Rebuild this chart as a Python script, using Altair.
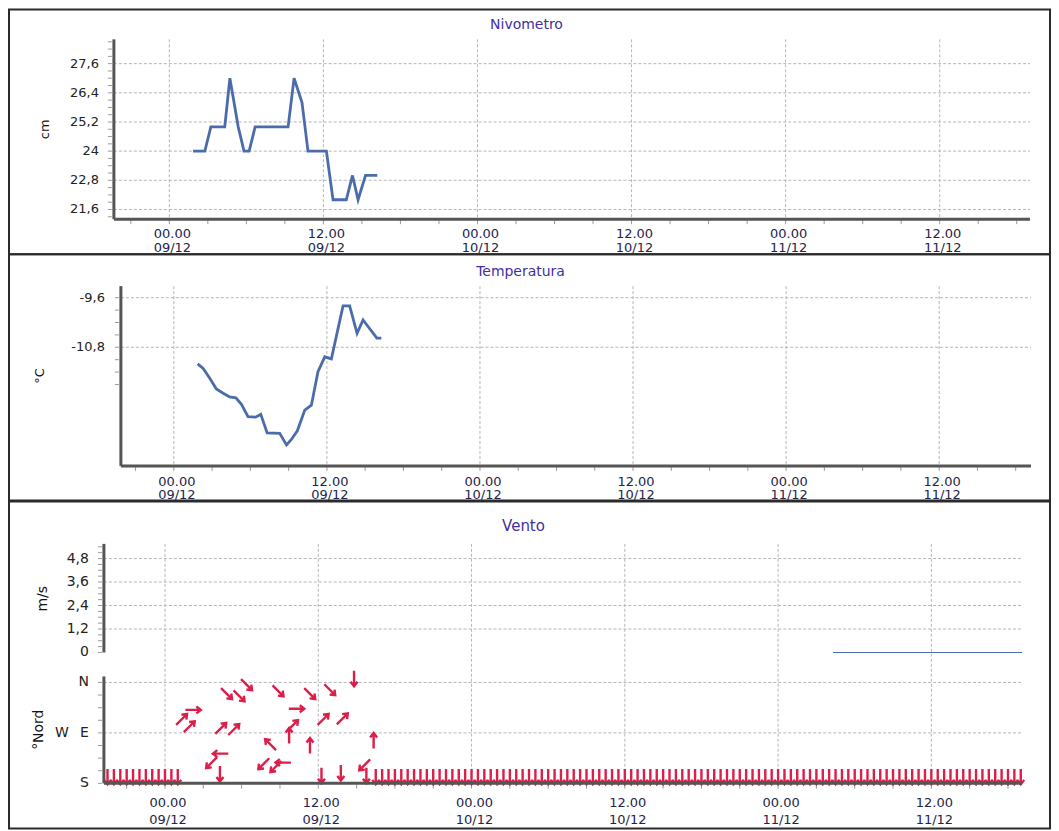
import altair as alt
import pandas as pd

FONT = "DejaVu Sans"
LINE_BLUE = "#4b6cab"
ARROW_RED = "#dc1e48"
GRID_C = "#b5b5b5"
AXIS_C = "#555555"
TICK_C = "#9a9a9a"
TITLE_C = "#3f2f9f"
XLAB_C = "#23234a"
YLAB_C = "#222222"
FRAME_C = "#2b2b2b"

# ---------------- data ----------------
niv_time = ["2023-12-09T01:51", "2023-12-09T02:46", "2023-12-09T03:14", "2023-12-09T04:19",
            "2023-12-09T04:43", "2023-12-09T05:22", "2023-12-09T05:49", "2023-12-09T06:13",
            "2023-12-09T06:41", "2023-12-09T09:15", "2023-12-09T09:43", "2023-12-09T10:20",
            "2023-12-09T10:48", "2023-12-09T12:14", "2023-12-09T12:45", "2023-12-09T13:47",
            "2023-12-09T14:16", "2023-12-09T14:42", "2023-12-09T15:17", "2023-12-09T16:12"]
niv_cm = [24, 24, 25, 25, 27, 25, 24, 24, 25, 25, 27, 26, 24, 24, 22, 22, 23, 22, 23, 23]

temp_time = ["2023-12-09T01:52", "2023-12-09T02:18", "2023-12-09T02:49", "2023-12-09T03:20",
             "2023-12-09T03:52", "2023-12-09T04:23", "2023-12-09T04:52", "2023-12-09T05:18",
             "2023-12-09T05:49", "2023-12-09T06:25", "2023-12-09T06:49", "2023-12-09T07:19",
             "2023-12-09T08:18", "2023-12-09T08:50", "2023-12-09T09:13", "2023-12-09T09:41",
             "2023-12-09T10:16", "2023-12-09T10:47", "2023-12-09T11:18", "2023-12-09T11:50",
             "2023-12-09T12:21", "2023-12-09T13:16", "2023-12-09T13:47", "2023-12-09T14:22",
             "2023-12-09T14:50", "2023-12-09T15:55", "2023-12-09T16:16"]
temp_c = [-11.20, -11.31, -11.55, -11.81, -11.91, -12.00, -12.02, -12.18, -12.48, -12.49,
          -12.42, -12.87, -12.88, -13.16, -13.03, -12.82, -12.32, -12.20, -11.39, -11.03,
          -11.08, -9.80, -9.80, -10.46, -10.14, -10.58, -10.58]

wind_time = ["2023-12-09T01:18", "2023-12-09T01:54", "2023-12-09T02:12", "2023-12-09T03:39",
             "2023-12-09T04:18", "2023-12-09T04:21", "2023-12-09T04:22", "2023-12-09T04:49",
             "2023-12-09T05:23", "2023-12-09T05:48", "2023-12-09T06:23", "2023-12-09T07:44",
             "2023-12-09T08:16", "2023-12-09T08:41", "2023-12-09T08:51", "2023-12-09T09:15",
             "2023-12-09T09:43", "2023-12-09T09:59", "2023-12-09T10:18", "2023-12-09T11:20",
             "2023-12-09T11:21", "2023-12-09T12:15", "2023-12-09T12:23", "2023-12-09T12:54",
             "2023-12-09T13:46", "2023-12-09T13:53", "2023-12-09T14:48", "2023-12-09T15:38",
             "2023-12-09T15:46", "2023-12-09T16:20"]
wind_dir = [66, 79, 49, 143, 163, 127, 82, 20, 84, 24, 4, 145, 111, 150, 15, 143, 95, 77, 47, 20,
            113, 166, 66, 13, 161, 65, -7, 147, 166, 104]
wind_arrow = [45, 45, 90, 225, 180, 270, 45, 135, 45, 135, 135, 225, 315, 225, 135, 270, 0, 45, 90,
              135, 0, 180, 45, 135, 180, 45, 180, 225, 180, 0]

# no-data markers drawn along the bottom (every 30 min)
nodata_a = pd.date_range("2023-12-08 19:30", "2023-12-09 01:00", freq="30min").strftime("%Y-%m-%dT%H:%M").tolist()
nodata_b = pd.date_range("2023-12-09 16:30", "2023-12-11 19:00", freq="30min").strftime("%Y-%m-%dT%H:%M").tolist()
nodata_dir = 168

speed_time = ["2023-12-11T04:18", "2023-12-11T19:06"]
speed_ms = [0, 0]

# axis ticks and labels
tick_12h = ["2023-12-09T00:00", "2023-12-09T12:00", "2023-12-10T00:00",
            "2023-12-10T12:00", "2023-12-11T00:00", "2023-12-11T12:00"]
tick_12h_labels = ["00.00\n09/12", "12.00\n09/12", "00.00\n10/12",
                   "12.00\n10/12", "00.00\n11/12", "12.00\n11/12"]
tick_3h = pd.date_range("2023-12-08 21:00", "2023-12-11 18:00", freq="180min").strftime("%Y-%m-%dT%H:%M").tolist()

niv_ticks = [21.6, 22.8, 24, 25.2, 26.4, 27.6]
niv_tick_labels = ["21,6", "22,8", "24", "25,2", "26,4", "27,6"]
niv_minor = [21.3, 21.6, 21.9, 22.2, 22.5, 22.8, 23.1, 23.4, 23.7, 24.0, 24.3, 24.6, 24.9,
             25.2, 25.5, 25.8, 26.1, 26.4, 26.7, 27.0, 27.3, 27.6, 27.9, 28.2, 28.5]
temp_ticks = [-9.6, -10.8]
temp_tick_labels = ["-9,6", "-10,8"]
temp_minor = [-9.6, -9.9, -10.2, -10.5, -10.8, -11.1, -11.4, -11.7]
speed_ticks = [0, 1.2, 2.4, 3.6, 4.8]
speed_tick_labels = ["0", "1,2", "2,4", "3,6", "4,8"]
speed_minor = [0, 0.3, 0.6, 0.9, 1.2, 1.5, 1.8, 2.1, 2.4, 2.7, 3.0, 3.3, 3.6, 3.9, 4.2, 4.5,
               4.8, 5.1, 5.4]
dir_ticks = [0, 90, 180]
dir_tick_labels = ["N", "E", "S"]
dir_minor = [0, 22.5, 45, 67.5, 90, 112.5, 135, 157.5, 180]

ARROW = "M0,1L0,-1M-0.45,-0.42L0,-1L0.45,-0.42"


def dt(day, hh, mm=0):
    return alt.DateTime(year=2023, month=12, date=day, hours=hh, minutes=mm)


one = pd.DataFrame({"k": [0]})


def frame(y0, y2):
    return alt.Chart(one).mark_rect(fill="transparent", fillOpacity=0, stroke=FRAME_C,
                                    strokeWidth=2).encode(
        x=alt.value(-95), x2=alt.value(947), y=alt.value(y0), y2=alt.value(y2))


def text(t, x, y, fs, color, angle=0):
    return alt.Chart(one).mark_text(text=t, font=FONT, fontSize=fs, color=color, angle=angle,
                                    baseline="middle", align="center").encode(
        x=alt.value(x), y=alt.value(y))


def vline(x, y0, y1):
    return alt.Chart(one).mark_rule(color=AXIS_C, strokeWidth=3).encode(
        x=alt.value(x), y=alt.value(y0), y2=alt.value(y1))


def hline(x0, x1, y):
    return alt.Chart(one).mark_rule(color=AXIS_C, strokeWidth=3).encode(
        x=alt.value(x0), x2=alt.value(x1), y=alt.value(y))


def xgrid(xs, H):
    return alt.Chart(pd.DataFrame({"t": tick_12h})).mark_rule(
        color=GRID_C, strokeDash=[3, 2], strokeWidth=1).encode(
        x=alt.X("t:T", scale=xs, axis=None), y=alt.value(0), y2=alt.value(H))


def xticks(xs, H):
    return alt.Chart(pd.DataFrame({"t": tick_3h})).mark_rule(color=TICK_C, strokeWidth=1).encode(
        x=alt.X("t:T", scale=xs, axis=None), y=alt.value(H + 1), y2=alt.value(H + 5))


def xlabels(xs, y, fs, lh):
    return alt.Chart(pd.DataFrame({"t": tick_12h, "lab": tick_12h_labels})).mark_text(
        font=FONT, fontSize=fs, color=XLAB_C, baseline="top", align="center",
        lineBreak="\n", lineHeight=lh, dx=3).encode(
        x=alt.X("t:T", scale=xs, axis=None), y=alt.value(y), text="lab:N")


def ygrid(vals, ys, x0, W):
    return alt.Chart(pd.DataFrame({"v": vals})).mark_rule(
        color=GRID_C, strokeDash=[3, 2], strokeWidth=1).encode(
        y=alt.Y("v:Q", scale=ys, axis=None), x=alt.value(x0), x2=alt.value(W))


def yticks(vals, ys, x0):
    return alt.Chart(pd.DataFrame({"v": vals})).mark_rule(color=TICK_C, strokeWidth=1).encode(
        y=alt.Y("v:Q", scale=ys, axis=None), x=alt.value(x0 - 6), x2=alt.value(x0 - 2))


def ylabels(vals, labs, ys, x, fs):
    return alt.Chart(pd.DataFrame({"v": vals, "lab": labs})).mark_text(
        font=FONT, fontSize=fs, color=YLAB_C, baseline="middle", align="right").encode(
        y=alt.Y("v:Q", scale=ys, axis=None), x=alt.value(x), text="lab:N")


def line_panel(title, title_x, ytitle, ytitle_x, times, vals, W, H, xoff, xdom, ydom,
               yt, ytl, yminor, fy0, fy2, lab_y, lab_lh, lab_gap):
    xs = alt.Scale(domain=xdom, range=[xoff, W])
    ys = alt.Scale(domain=ydom, nice=False, zero=False)
    df = pd.DataFrame({"t": times, "v": vals})
    line = alt.Chart(df).mark_line(color=LINE_BLUE, strokeWidth=2.8).encode(
        x=alt.X("t:T", scale=xs, axis=None),
        y=alt.Y("v:Q", scale=ys, axis=None))
    return alt.layer(
        frame(fy0, fy2),
        text(title, title_x, -14, 14, TITLE_C),
        text(ytitle, ytitle_x, H / 2, 13, "#111111", 270),
        xgrid(xs, H), ygrid(yt, ys, xoff, W),
        xticks(xs, H), yticks(yminor, ys, xoff),
        xlabels(xs, H + lab_y, 13, lab_lh),
        ylabels(yt, ytl, ys, xoff - lab_gap, 13),
        line,
        vline(xoff, 0, H), hline(xoff, W, H),
    ).properties(width=W, height=H)


p1 = line_panel("Nivometro", 423, "cm", -59, niv_time, niv_cm, 927, 180, 10,
                [dt(8, 19, 41), dt(11, 19, 2)], [21.2, 28.6], niv_ticks, niv_tick_labels,
                niv_minor, -30, 215, 9, 14, 15)

p2 = line_panel("Temperatura", 417, "°C", -64, temp_time, temp_c, 928, 180, 17,
                [dt(8, 19, 51), dt(11, 19, 12)], [-13.67, -9.32], temp_ticks, temp_tick_labels,
                temp_minor, -32, 214.5, 10, 13, 16)

# ---------------- Vento panel ----------------
W3, H3 = 919, 240
xs3 = alt.Scale(domain=[dt(8, 19, 13), dt(11, 19, 6)], range=[0, W3])
ys_speed = alt.Scale(domain=[0, 5.55], range=[108.7, 0], nice=False, zero=False)
ys_dir = alt.Scale(domain=[-10.7, 180], range=[132.7, 239.7], nice=False, zero=False)

speed_df = pd.DataFrame({"t": speed_time, "v": speed_ms})
speed_line = alt.Chart(speed_df).mark_line(color=LINE_BLUE, strokeWidth=1.2).encode(
    x=alt.X("t:T", scale=xs3, axis=None),
    y=alt.Y("v:Q", scale=ys_speed, axis=None))

upper = alt.layer(
    ygrid([1.2, 2.4, 3.6, 4.8], ys_speed, 0, W3),
    yticks(speed_minor, ys_speed, 0),
    ylabels(speed_ticks, speed_tick_labels, ys_speed, -15, 14),
    speed_line,
)

wind_df = pd.DataFrame({"t": wind_time, "v": wind_dir, "a": wind_arrow})
nodata_df = pd.DataFrame({"t": nodata_a + nodata_b, "v": nodata_dir, "a": 180})
all_arrows = pd.concat([nodata_df, wind_df], ignore_index=True)

arrows = alt.Chart(all_arrows).mark_point(
    shape=ARROW, filled=False, stroke=ARROW_RED, strokeWidth=2.4, size=240, opacity=1).encode(
    x=alt.X("t:T", scale=xs3, axis=None),
    y=alt.Y("v:Q", scale=ys_dir, axis=None),
    angle=alt.Angle("a:Q", scale=None))

w_label = alt.Chart(pd.DataFrame({"v": [90]})).mark_text(
    text="W", font=FONT, fontSize=14, color=YLAB_C, align="center", baseline="middle").encode(
    x=alt.value(-42), y=alt.Y("v:Q", scale=ys_dir, axis=None))

lower = alt.layer(
    ygrid([0, 90], ys_dir, 0, W3),
    yticks(dir_minor, ys_dir, 0),
    ylabels(dir_ticks, dir_tick_labels, ys_dir, -15, 14),
    w_label,
    arrows,
)

p3 = alt.layer(
    frame(-42.5, 285),
    text("Vento", 420, -18, 15, TITLE_C),
    text("m/s", -61, 55, 14, "#111111", 270),
    text("°Nord", -65, 186, 14, "#111111", 270),
    xgrid(xs3, H3), xticks(xs3, H3),
    xlabels(xs3, H3 + 13, 13, 17),
    upper, lower,
    vline(0, 0, 108.7), vline(0, 132.7, 239.7), hline(0, W3, 239.7),
).resolve_scale(y="independent").properties(width=W3, height=H3)

chart = alt.vconcat(p1, p2, p3, spacing=-2).properties(
    padding=0, background="white").configure_view(stroke=None)

chart.save("out.html", embed_options={"renderer": "svg", "actions": False})
